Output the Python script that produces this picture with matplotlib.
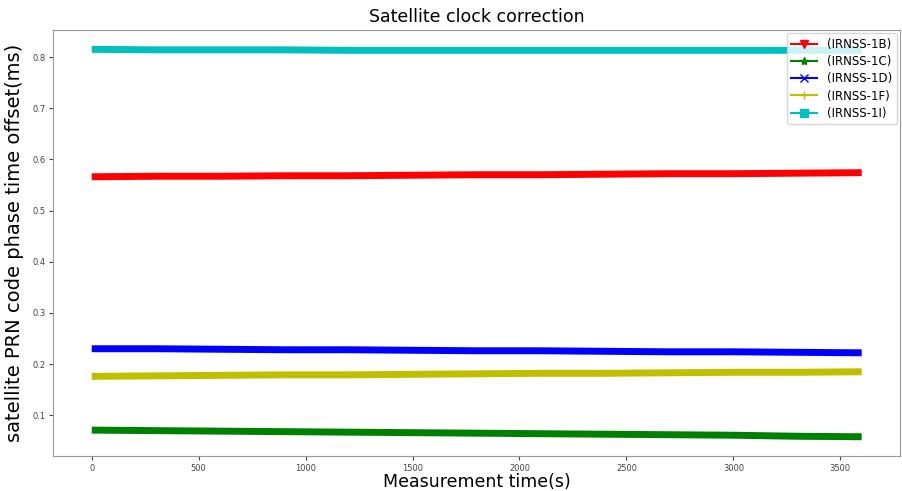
import matplotlib.pyplot as plt
from matplotlib.lines import Line2D

# measurement time (s), read every 300 s
t = [0, 300, 600, 900, 1200, 1500, 1800, 2100, 2400, 2700, 3000, 3300, 3600]

irnss_1b = [0.566, 0.567, 0.567, 0.568, 0.568, 0.569, 0.570, 0.570, 0.571, 0.572, 0.572, 0.573, 0.574]
irnss_1c = [0.071, 0.070, 0.069, 0.068, 0.067, 0.066, 0.065, 0.064, 0.063, 0.062, 0.061, 0.059, 0.058]
irnss_1d = [0.230, 0.230, 0.229, 0.228, 0.228, 0.227, 0.226, 0.226, 0.225, 0.224, 0.224, 0.223, 0.222]
irnss_1f = [0.176, 0.177, 0.178, 0.179, 0.179, 0.180, 0.181, 0.182, 0.182, 0.183, 0.184, 0.184, 0.185]
irnss_1i = [0.815, 0.814, 0.814, 0.814, 0.813, 0.813, 0.813, 0.813, 0.813, 0.813, 0.813, 0.813, 0.813]

series = [
    ("(IRNSS-1B)", irnss_1b, "r", "v"),
    ("(IRNSS-1C)", irnss_1c, "g", "*"),
    ("(IRNSS-1D)", irnss_1d, "b", "x"),
    ("(IRNSS-1F)", irnss_1f, "y", "+"),
    ("(IRNSS-1I)", irnss_1i, "c", "s"),
]

fig = plt.figure(figsize=(9.02, 4.91), dpi=100)
ax = fig.add_axes([0.059, 0.071, 0.939, 0.868])

handles = []
for label, vals, col, mk in series:
    ax.plot(t, vals, color=col, lw=5, solid_capstyle="butt")
    handles.append(Line2D([0], [0], color=col, marker=mk, lw=1.5, markersize=6, label=label))

ax.set_title("Satellite clock correction", fontsize=12.5)
ax.set_xlabel("Measurement time(s)", fontsize=12.5, labelpad=0)
ax.set_ylabel("satellite PRN code phase time offset(ms)", fontsize=14, labelpad=6)
ax.tick_params(labelsize=6, length=3, pad=2.5, colors="#444444")
ax.set_xticks([0, 500, 1000, 1500, 2000, 2500, 3000, 3500])
ax.set_yticks([0.1, 0.2, 0.3, 0.4, 0.5, 0.6, 0.7, 0.8])
for s in ax.spines.values():
    s.set_color("#999999")

ax.legend(handles=handles, loc="upper right", fontsize=8.5, borderaxespad=0.3,
          handlelength=2.2, labelspacing=0.35)

plt.savefig("out.png", dpi=100)
